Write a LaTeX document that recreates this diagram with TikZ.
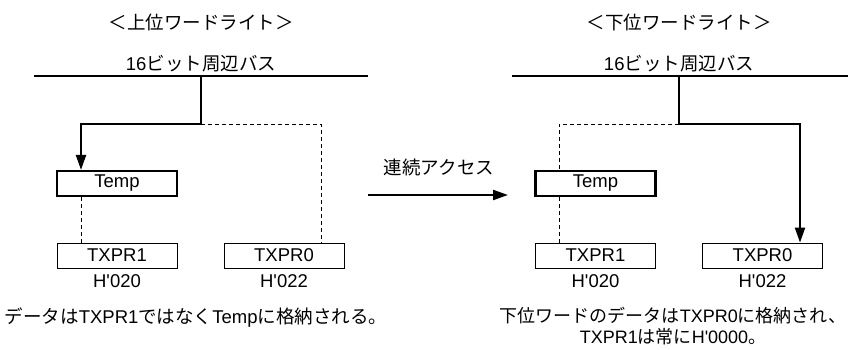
\documentclass[tikz,border=0pt]{standalone}
\usepackage{fontspec}
\setmainfont{Noto Sans CJK JP}
\newfontfamily\latinfont{Liberation Sans}
\newcommand{\lat}[1]{{\latinfont #1}}
\newcommand{\apos}{\symbol{39}}
\usepackage{tikz}
\usetikzlibrary{positioning, arrows.meta, calc}

\begin{document}
\begin{tikzpicture}[
    x=1pt, y=-1pt,
    font=\fontsize{18.5}{22}\selectfont,
    reg/.style={rectangle, draw=black, line width=0.8pt, minimum width=120pt,
                minimum height=25pt, inner sep=0pt, font=\fontsize{18.5}{22}\latinfont},
    tmp/.style={reg, line width=2.2pt},
    addr/.style={font=\fontsize{18.5}{22}\latinfont, inner sep=2pt},
    bus/.style={line width=2.4pt},
    path/.style={line width=2.2pt},
    idle/.style={line width=0.8pt, dashed, dash pattern=on 4pt off 3pt},
    >={Triangle[length=15pt, width=10pt]}
  ]
  \useasboundingbox (0,0) rectangle (848,349);

  % Left: upper word write
  \node (titleL) at (201,22) {＜上位ワードライト＞};
  \coordinate (busLa) at (34,76);
  \coordinate (busLb) at (368,76);
  \coordinate (tapL) at (201,76);
  \draw[bus] (busLa) -- (busLb);
  \node[above=0pt of tapL] (busnameL) {\lat{16}ビット周辺バス};

  \node[tmp] (tempL) at (117,183.5) {Temp};
  \node[reg] (txprOneL) at (117,255.5) {TXPR1};
  \node[reg] (txprZeroL) at (284,255.5) {TXPR0};
  \node[addr, below=4pt of txprOneL] (addrOneL) {H\apos020};
  \node[addr, below=4pt of txprZeroL] (addrZeroL) {H\apos022};

  \coordinate (jL) at (201,124);
  \coordinate (dropL) at (81,124);
  \coordinate (cornerL) at (321,124);
  \draw[path, ->] (tapL) -- (jL) -- (dropL) -- (dropL |- tempL.north);
  \draw[idle] (jL) -- (cornerL) -- (cornerL |- txprZeroL.north);
  \draw[idle] (dropL |- tempL.south) -- (dropL |- txprOneL.north);

  \node (noteL) at (196,318) {データは\lat{TXPR1}ではなく\lat{Temp}に格納される。};

  % Sequential access
  \coordinate (seqA) at (368,195);
  \coordinate (seqB) at (508,195);
  \draw[path, ->] (seqA) -- (seqB);
  \node (seq) at (439,167) {連続アクセス};

  % Right: lower word write
  \node (titleR) at (679,22) {＜下位ワードライト＞};
  \coordinate (busRa) at (512,76);
  \coordinate (busRb) at (848,76);
  \coordinate (tapR) at (679,76);
  \draw[bus] (busRa) -- (busRb);
  \node[above=0pt of tapR] (busnameR) {\lat{16}ビット周辺バス};

  \node[tmp] (tempR) at (595.5,183.5) {Temp};
  \node[reg] (txprOneR) at (595.5,255.5) {TXPR1};
  \node[reg] (txprZeroR) at (762.5,255.5) {TXPR0};
  \node[addr, below=4pt of txprOneR] (addrOneR) {H\apos020};
  \node[addr, below=4pt of txprZeroR] (addrZeroR) {H\apos022};

  \coordinate (jR) at (679,124);
  \coordinate (dropR) at (800,124);
  \coordinate (cornerR) at (559,124);
  \draw[path, ->] (tapR) -- (jR) -- (dropR) -- (dropR |- txprZeroR.north);
  \draw[idle] (jR) -- (cornerR) -- (cornerR |- tempR.north);
  \draw[idle] (cornerR |- tempR.south) -- (cornerR |- txprOneR.north);

  \node[align=center, inner sep=0pt, font=\fontsize{18}{21}\selectfont] (noteR) at (673,326)
    {下位ワードのデータは\lat{TXPR0}に格納され、\\\lat{TXPR1}は常に\lat{H\apos0000}。};
\end{tikzpicture}
\end{document}
